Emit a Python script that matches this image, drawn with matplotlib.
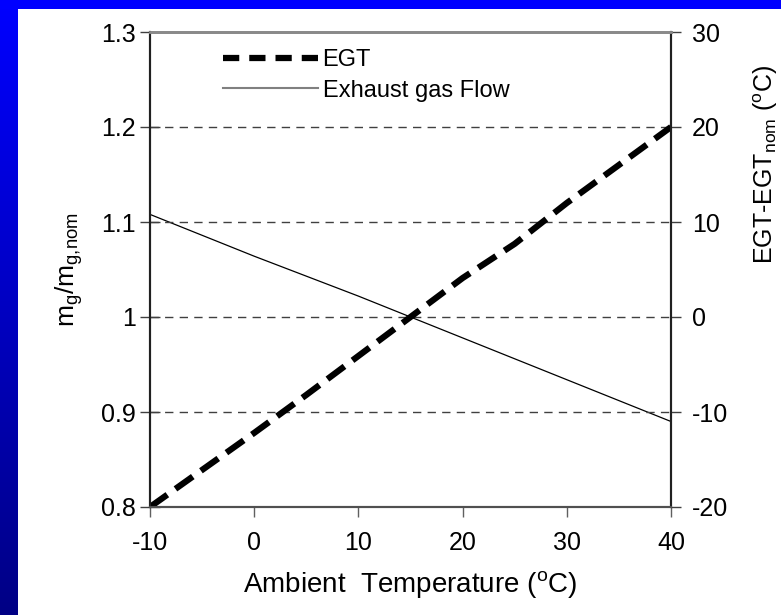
import numpy as np
import matplotlib.pyplot as plt

plt.rcParams['font.family'] = ['Liberation Sans', 'DejaVu Sans']
plt.rcParams['mathtext.fontset'] = 'custom'
plt.rcParams['mathtext.rm'] = 'Liberation Sans'
plt.rcParams['mathtext.it'] = 'Liberation Sans'
plt.rcParams['axes.unicode_minus'] = False

# Ambient temperature (degC) and the two responses
temp = [-10, -5, 0, 5, 10, 15, 20, 25, 30, 35, 40]
egt_delta = [-20, -16.1, -12.2, -8.2, -4.1, 0, 4.1, 7.7, 12, 16, 20]
flow_ratio = [1.108, 1.086, 1.064, 1.043, 1.022, 1.0, 0.978, 0.956, 0.934, 0.912, 0.89]

x_ticks = [-10, 0, 10, 20, 30, 40]
left_ticks = [0.8, 0.9, 1.0, 1.1, 1.2, 1.3]
left_labels = ['0.8', '0.9', '1', '1.1', '1.2', '1.3']
right_ticks = [-20, -10, 0, 10, 20, 30]

W, H = 781, 615
fig = plt.figure(figsize=(W / 100, H / 100), dpi=100)

# slide background: blue band on top, blue->navy strip down the left
bg = np.ones((H, W, 3))
bg[:9, :, :] = [0, 0, 1]
shade = np.linspace(1.0, 0.52, H)
bg[:, :18, 0] = 0
bg[:, :18, 1] = 0
bg[:, :18, 2] = shade[:, None]
bg[:9, :18, 2] = 1.0
bax = fig.add_axes([0, 0, 1, 1])
bax.imshow(bg, aspect='auto', interpolation='nearest')
bax.axis('off')

ax = fig.add_axes([150 / W, 1 - 507 / H, (671 - 150) / W, (507 - 32) / H])
ax2 = ax.twinx()

# EGT on the right axis, gas flow on the left
l1, = ax2.plot(temp, egt_delta, color='black', lw=4.5, ls=(0, (3.4, 1.6)), label='EGT')
l2, = ax.plot(temp, flow_ratio, color='black', lw=0.9, label='Exhaust gas Flow')

for v in right_ticks[1:-1]:
    ax2.axhline(v, color='#404040', lw=1.0, ls=(0, (6, 4.5)), zorder=0)

ax.set_xlim(-10, 40)
ax.set_ylim(0.8, 1.3)
ax2.set_ylim(-20, 30)
ax.set_xticks(x_ticks)
ax.set_yticks(left_ticks)
ax.set_yticklabels(left_labels)
ax2.set_yticks(right_ticks)

ax.tick_params(axis='x', direction='out', length=7, width=1, color='#606060',
               labelsize=18, pad=10)
ax.tick_params(axis='y', direction='inout', length=14, width=1, color='#404040',
               labelsize=18, pad=3)
ax2.tick_params(axis='y', direction='out', length=7, width=1, color='#404040',
                labelsize=18, pad=8)

for a in (ax, ax2):
    a.spines['top'].set_color('#8a8a8a')
    a.spines['top'].set_linewidth(2)
    a.spines['bottom'].set_color('#505050')
    a.spines['bottom'].set_linewidth(1.5)
    a.spines['left'].set_color('#202020')
    a.spines['left'].set_linewidth(1.5)
    a.spines['right'].set_color('#202020')
    a.spines['right'].set_linewidth(1.5)

ax.set_xlabel(r'Ambient  Temperature ($^{\rm o}$C)', fontsize=20, labelpad=10)
ax.set_ylabel(r'm$_{\rm g}$/m$_{\rm g{,}nom}$', fontsize=19, labelpad=12)
ax2.set_ylabel(r'EGT-EGT$_{\rm nom}$ ($^{\rm o}$C)', fontsize=18)
ax2.yaxis.set_label_coords(1.155, 0.72)

leg_flow = plt.Line2D([], [], color='#808080', lw=1.5)
leg_egt = plt.Line2D([], [], color='black', lw=4.5, ls=(0, (2.6, 1.6)))
ax.legend([leg_egt, leg_flow], ['EGT', 'Exhaust gas Flow'], loc='upper left',
          bbox_to_anchor=(0.1, 1.008), frameon=False, fontsize=17,
          handlelength=4.0, handletextpad=0.2, labelspacing=0.35)

fig.savefig('out.png', dpi=100)
